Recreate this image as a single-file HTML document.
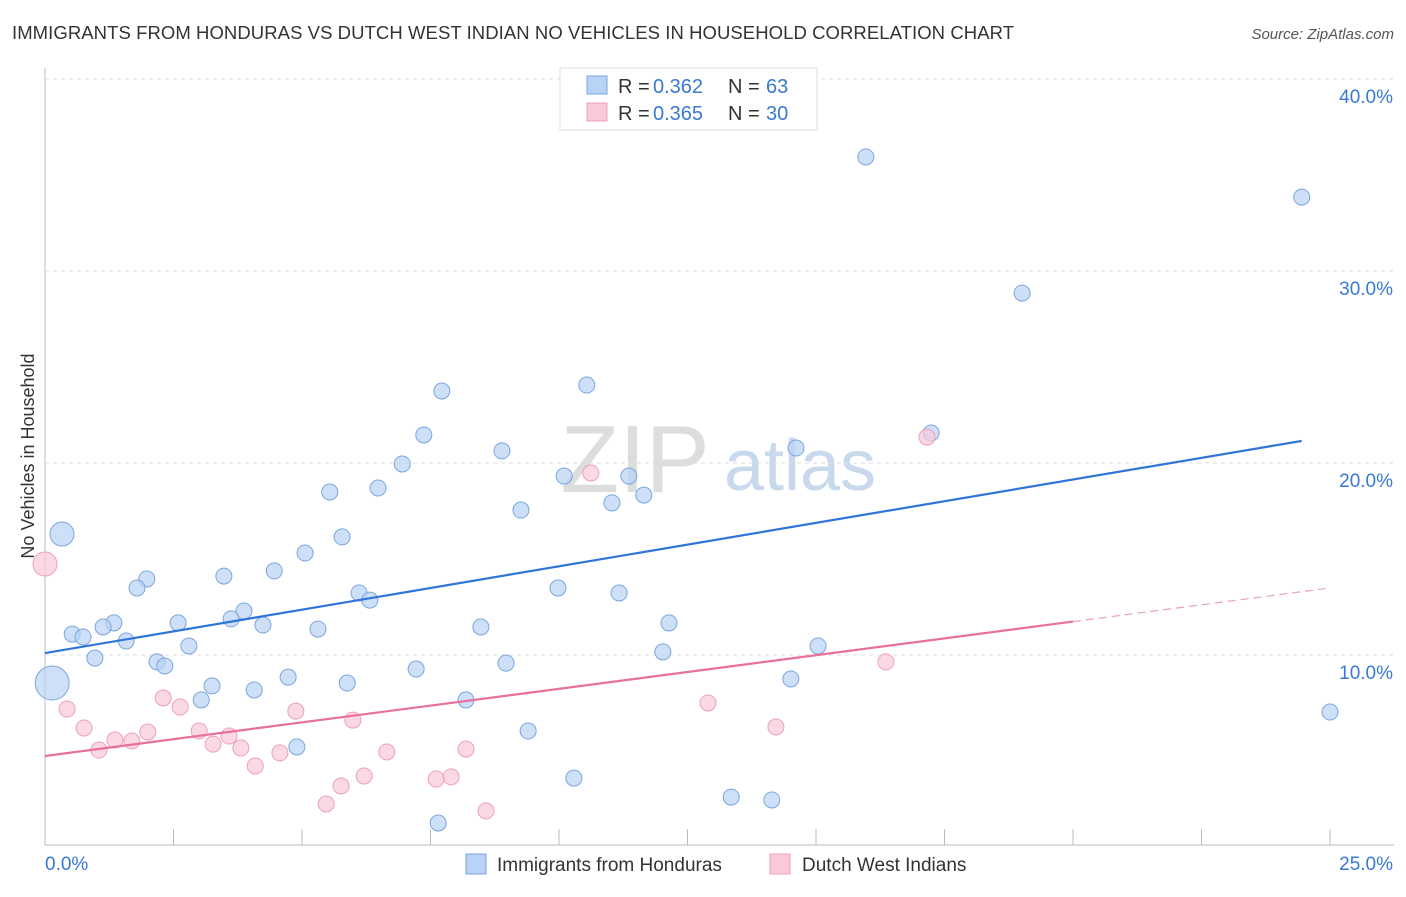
<!DOCTYPE html>
<html><head><meta charset="utf-8"><style>
body{margin:0;background:#fff;font-family:"Liberation Sans",sans-serif}
svg text{font-family:"Liberation Sans",sans-serif}
</style></head><body>
<svg id="c" width="1406" height="892">
<text x="12" y="39" font-size="18.5" fill="#333" textLength="1002">IMMIGRANTS FROM HONDURAS VS DUTCH WEST INDIAN NO VEHICLES IN HOUSEHOLD CORRELATION CHART</text>
<text x="1394" y="39" font-size="15" fill="#555" font-style="italic" text-anchor="end">Source: ZipAtlas.com</text>
<text x="0" y="0" transform="translate(34,456) rotate(-90)" font-size="18" fill="#333" text-anchor="middle">No Vehicles in Household</text>
<text x="635" y="492" font-size="96" fill="#ddd" font-family="Liberation Serif" text-anchor="middle">ZIP</text>
<text x="800" y="490" font-size="72" fill="#c8d9ee" text-anchor="middle">atlas</text>
<g id="grid"></g><g id="marks"></g>
<g>
<rect x="560" y="68" width="257" height="62" fill="#fff" stroke="#ddd"/>
<rect x="587" y="76" width="20" height="18" fill="#b8d3f5" stroke="#7aa6e0"/>
<rect x="587" y="103" width="20" height="18" fill="#f9c9d8" stroke="#eea0b8"/>
<text x="618" y="93" font-size="20" fill="#333">R = </text><text x="653" y="93" font-size="20" fill="#3a78d6">0.362</text>
<text x="728" y="93" font-size="20" fill="#333">N = </text><text x="766" y="93" font-size="20" fill="#3a78d6">63</text>
<text x="618" y="120" font-size="20" fill="#333">R = </text><text x="653" y="120" font-size="20" fill="#3a78d6">0.365</text>
<text x="728" y="120" font-size="20" fill="#333">N = </text><text x="766" y="120" font-size="20" fill="#3a78d6">30</text>
</g>
<g>
<rect x="466" y="854" width="20" height="20" fill="#b8d3f5" stroke="#7aa6e0"/>
<text x="497" y="871" font-size="19" fill="#333">Immigrants from Honduras</text>
<rect x="770" y="854" width="20" height="20" fill="#f9c9d8" stroke="#eea0b8"/>
<text x="802" y="871" font-size="19" fill="#333">Dutch West Indians</text>
</g>
</svg>
<script>
const yTicks=[10,20,30,40];
const xTickLabels=["0.0%","25.0%"];
const blueX=[15.97,24.45,19.01,10.54,7.72,17.24,7.37,8.89,14.61,6.95,10.10,11.36,6.48,5.54,11.65,11.03,9.26,0.33,5.78,5.06,4.46,3.48,1.98,1.79,9.98,6.11,11.17,6.32,3.87,3.62,1.34,2.59,4.24,1.13,0.53,0.74,5.31,8.48,12.14,1.58,2.80,15.04,12.02,0.97,2.18,2.33,8.97,7.22,4.73,14.51,5.88,0.14,3.25,4.07,3.04,8.19,25.0,9.40,4.90,10.29,13.35,14.14,7.65];
const blueY=[35.94,33.85,28.85,24.06,23.75,21.56,21.46,20.63,20.78,19.95,19.32,19.32,18.70,18.49,18.33,17.92,17.55,16.30,16.15,15.31,14.38,14.11,13.96,13.49,13.49,13.23,13.23,12.86,12.29,11.88,11.67,11.67,11.56,11.46,11.09,10.94,11.35,11.46,11.67,10.73,10.47,10.47,10.16,9.84,9.64,9.43,9.58,9.27,8.85,8.75,8.54,8.54,8.39,8.18,7.66,7.66,7.03,6.04,5.21,3.59,2.60,2.45,1.25];
const pinkX=[0,10.62,17.16,16.36,0.43,2.30,2.63,12.90,0.76,4.88,5.99,14.22,2.00,3.00,3.58,1.36,1.69,3.27,3.81,1.05,6.65,8.19,4.57,4.09,6.21,7.90,7.61,5.76,5.47,8.58];
const pinkY=[14.74,19.48,21.35,9.64,7.19,7.76,7.29,7.50,6.20,7.08,6.61,6.25,5.99,6.04,5.78,5.57,5.52,5.36,5.16,5.05,4.95,5.10,4.90,4.22,3.70,3.65,3.54,3.18,2.24,1.88];
const blueTrend=[10.10,21.15];const blueTrendX=[0,24.45];
const pinkTrend=[4.74,13.49];const pinkSolidEnd=20.0;
const X=v=>45+v/25*1285, Y=v=>847-v*19.2;
const NS="http://www.w3.org/2000/svg";
function mk(t,a,p){const e=document.createElementNS(NS,t);for(const k in a)e.setAttribute(k,a[k]);p.appendChild(e);return e;}
const g=document.getElementById('grid'),m=document.getElementById('marks');
let ax=mk('line',{x1:45,y1:68,x2:45,y2:845,stroke:'#bbb'},g);

let bx=mk('line',{x1:45,y1:845,x2:1394,y2:845,stroke:'#bbb'},g);

for(let i=0;i<=10;i++){const t=mk('line',{x1:X(i*2.5),x2:X(i*2.5),y1:829,y2:845,stroke:'#bbb'},g);
}
yTicks.forEach(v=>{const l=mk('line',{x1:45,x2:1394,y1:Y(v),y2:Y(v),stroke:'#ddd','stroke-dasharray':'4,4'},g);

const t=mk('text',{x:1393,y:Y(v)+24,'font-size':19,fill:'#3a78d6','text-anchor':'end'},g);t.textContent=v.toFixed(1)+'%';
});
[[45,'start'],[1393,'end']].forEach((p,i)=>{const t=mk('text',{x:p[0],y:870,'font-size':19,fill:'#3a78d6','text-anchor':p[1]},g);t.textContent=xTickLabels[i];
});
blueX.forEach((x,i)=>{const r=i==51?17:(i==17?12:8);const c=mk('circle',{cx:X(x),cy:Y(blueY[i]),r:r,fill:'#b8d3f5','fill-opacity':0.7,stroke:'#7aa6e0'},m);
});
pinkX.forEach((x,i)=>{const r=i==0?12:8;const c=mk('circle',{cx:X(x),cy:Y(pinkY[i]),r:r,fill:'#f9c9d8','fill-opacity':0.7,stroke:'#eea0b8'},m);
});
const bl=mk('line',{x1:X(blueTrendX[0]),y1:Y(blueTrend[0]),x2:X(blueTrendX[1]),y2:Y(blueTrend[1]),stroke:'#2f74d8','stroke-width':2.2},m);

const pv=x=>pinkTrend[0]+(pinkTrend[1]-pinkTrend[0])*x/25;
const pl=mk('line',{x1:X(0),y1:Y(pv(0)),x2:X(pinkSolidEnd),y2:Y(pv(pinkSolidEnd)),stroke:'#e8709a','stroke-width':2.2},m);

const pd=mk('line',{x1:X(pinkSolidEnd),y1:Y(pv(pinkSolidEnd)),x2:X(25),y2:Y(pv(25)),stroke:'#e8a0b8','stroke-width':1.2,'stroke-dasharray':'8,5'},m);

</script>
</body></html>
